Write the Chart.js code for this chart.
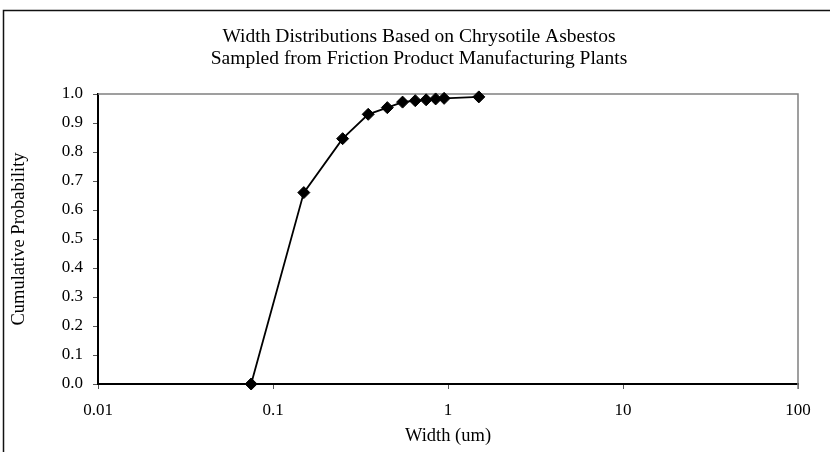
<!DOCTYPE html>
<html>
<head>
<meta charset="utf-8">
<script src="https://cdn.jsdelivr.net/npm/chart.js@4.4.1/dist/chart.umd.min.js"></script>
<style>
  html, body { margin: 0; padding: 0; background: #fff; }
</style>
</head>
<body>
<canvas id="widthChart" width="830" height="452"></canvas>
<script>
// fibre widths (um) and cumulative probability at each width
const widths = [0.075, 0.15, 0.25, 0.35, 0.45, 0.55, 0.65, 0.75, 0.85, 0.95, 1.5];
const cumProb = [0, 0.66, 0.846, 0.93, 0.953, 0.972, 0.977, 0.98, 0.983, 0.985, 0.99];
const xTicks = [0.01, 0.1, 1, 10, 100];
const yTicks = [0, 0.1, 0.2, 0.3, 0.4, 0.5, 0.6, 0.7, 0.8, 0.9, 1.0];
const titleLines = ['Width Distributions Based on Chrysotile Asbestos', 'Sampled from Friction Product Manufacturing Plants'];

const serif = "'Liberation Serif', 'Times New Roman', serif";
const ink = '#000';

// outer frame and the grey top/right edge of the plot area
const frame = {
    id: 'frame',
    beforeDatasetsDraw(chart) {
        const { ctx, chartArea: a } = chart;
        ctx.save();
        ctx.strokeStyle = '#808080';
        ctx.lineWidth = 1.5;
        ctx.beginPath();
        ctx.moveTo(a.left, a.top);
        ctx.lineTo(a.right, a.top);
        ctx.lineTo(a.right, a.bottom + 5);
        ctx.stroke();
        ctx.strokeStyle = '#111';
        ctx.lineWidth = 1.5;
        ctx.beginPath();
        ctx.moveTo(3.5, 452);
        ctx.lineTo(3.5, 10.5);
        ctx.lineTo(830, 10.5);
        ctx.stroke();
        ctx.restore();
    }
};

new Chart(document.getElementById('widthChart'), {
    type: 'scatter',
    data: {
        datasets: [{
            data: widths.map((w, i) => ({ x: w, y: cumProb[i] })),
            showLine: true,
            borderColor: ink,
            borderWidth: 1.8,
            pointStyle: 'rectRot',
            pointRadius: 6,
            pointBackgroundColor: ink,
            pointBorderColor: ink,
            pointBorderWidth: 1,
            clip: false
        }]
    },
    options: {
        responsive: false,
        animation: false,
        layout: { padding: { left: 8, right: 0, top: 0, bottom: 0 } },
        plugins: {
            legend: { display: false },
            tooltip: { enabled: false },
            title: {
                display: true,
                text: titleLines,
                color: ink,
                font: { family: serif, size: 19.5, weight: 'normal', lineHeight: '22px' },
                padding: { top: 26, bottom: 24 }
            }
        },
        scales: {
            x: {
                type: 'logarithmic',
                min: 0.01,
                max: 100,
                afterBuildTicks: s => { s.ticks = xTicks.map(v => ({ value: v })); },
                afterFit: s => { s.height = 68; },
                grid: { drawOnChartArea: false, tickLength: 5, tickColor: '#555' },
                border: { color: ink, width: 2 },
                ticks: {
                    color: ink,
                    padding: 11,
                    maxRotation: 0,
                    font: { family: serif, size: 17 },
                    callback: v => String(v)
                },
                title: {
                    display: true,
                    text: 'Width (um)',
                    color: ink,
                    font: { family: serif, size: 18.5 },
                    padding: { top: 5, bottom: 5 }
                }
            },
            y: {
                min: 0,
                max: 1,
                afterBuildTicks: s => { s.ticks = yTicks.map(v => ({ value: v })); },
                afterFit: s => { s.width = 90; },
                grid: { drawOnChartArea: false, tickLength: 5, tickColor: '#555' },
                border: { color: ink, width: 2 },
                ticks: {
                    color: ink,
                    padding: 10,
                    font: { family: serif, size: 17 },
                    callback: v => v.toFixed(1)
                },
                title: {
                    display: true,
                    text: 'Cumulative Probability',
                    color: ink,
                    font: { family: serif, size: 18.5 },
                    padding: { top: 0, bottom: 0 }
                }
            },
            // empty strip on the right so the plot ends where the frame needs it
            edge: {
                type: 'linear',
                position: 'right',
                afterFit: s => { s.width = 32; },
                grid: { display: false },
                border: { display: false },
                ticks: { display: false }
            }
        }
    },
    plugins: [frame]
});
</script>
</body>
</html>
